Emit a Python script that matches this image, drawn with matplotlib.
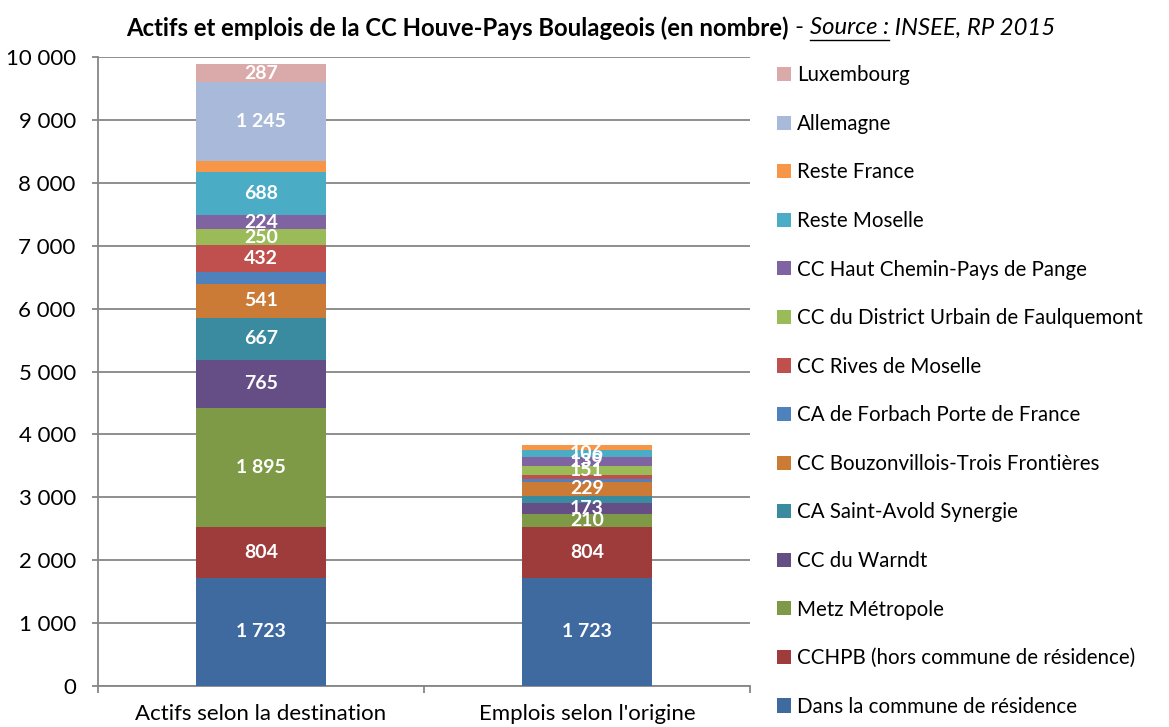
import matplotlib.pyplot as plt
from matplotlib.patches import Patch
from matplotlib.lines import Line2D

plt.rcParams['font.family'] = ['Lato', 'DejaVu Sans']

# categories and series (bottom to top)
categories = ["Actifs selon la destination", "Emplois selon l'origine"]
series = [
    "Dans la commune de résidence",
    "CCHPB (hors commune de résidence)",
    "Metz Métropole",
    "CC du Warndt",
    "CA Saint-Avold Synergie",
    "CC Bouzonvillois-Trois Frontières",
    "CA de Forbach Porte de France",
    "CC Rives de Moselle",
    "CC du District Urbain de Faulquemont",
    "CC Haut Chemin-Pays de Pange",
    "Reste Moselle",
    "Reste France",
    "Allemagne",
    "Luxembourg",
]
actifs = [1723, 804, 1895, 765, 667, 541, 185, 432, 250, 224, 688, 178, 1245, 287]
emplois = [1723, 804, 210, 173, 111, 229, 48, 52, 151, 139, 106, 80, 0, 0]
# which segments carry a value label
label_actifs = [1, 1, 1, 1, 1, 1, 0, 1, 1, 1, 1, 0, 1, 1]
label_emplois = [1, 1, 1, 1, 0, 1, 0, 0, 1, 1, 1, 0, 0, 0]

colors = ["#3F6A9F", "#9E3C3B", "#7E9A46", "#654D86", "#3A8BA0", "#CC7B36",
          "#4F81BD", "#C0504D", "#9BBB59", "#8064A2", "#4BACC6", "#F79646",
          "#A9B9D9", "#DAA9A9"]

fig = plt.figure(figsize=(11.69, 7.27), dpi=100)
ax = fig.add_axes([98 / 1169, 41 / 727, 652 / 1169, 629 / 727])

values = [actifs, emplois]
labels = [label_actifs, label_emplois]
x = [0, 1]
for ci in range(2):
    bottom = 0
    for si in range(len(series)):
        v = values[ci][si]
        if v > 0:
            ax.bar(x[ci], v, bottom=bottom, width=0.4, color=colors[si],
                   edgecolor='none', zorder=3)
            if labels[ci][si]:
                ax.text(x[ci], bottom + v / 2, f"{v:,}".replace(",", " "),
                        ha='center', va='center', color='white',
                        fontsize=14, fontweight='bold', zorder=4)
        bottom += v

ax.set_xlim(-0.5, 1.5)
ax.set_ylim(0, 10000)
ax.set_yticks(range(0, 10001, 1000))
ax.set_yticklabels([f"{t:,}".replace(",", " ") for t in range(0, 10001, 1000)],
                   fontsize=16)
ax.yaxis.grid(True, color='#868686', linewidth=1.3, zorder=0)
ax.set_axisbelow(True)

ax.set_xticks(x)
ax.set_xticklabels(categories, fontsize=16)
ax.tick_params(axis='x', which='major', length=0, pad=13)
ax.set_xticks([-0.5, 0.5, 1.5], minor=True)
ax.tick_params(axis='x', which='minor', length=5, color='#868686', width=1.3)
ax.tick_params(axis='y', length=4, color='#868686', width=1.3, pad=12)

for s in ['top', 'right']:
    ax.spines[s].set_visible(False)
for s in ['left', 'bottom']:
    ax.spines[s].set_color('#868686')
    ax.spines[s].set_linewidth(1.3)

# legend, top entry first
handles = [Patch(facecolor=colors[i], edgecolor='none', label=series[i])
           for i in range(len(series) - 1, -1, -1)]
fig.legend(handles=handles, loc='upper left',
           bbox_to_anchor=(769 / 1169, 1 - 57 / 727),
           frameon=False, fontsize=14.8, handlelength=0.68, handleheight=0.68,
           handletextpad=0.3, labelspacing=1.39, borderaxespad=0)

# title built from pieces
pieces = [
    ("Actifs et emplois de la CC Houve-Pays Boulageois (en nombre)", 'bold', 'normal', False),
    (" - ", 'normal', 'normal', False),
    ("Source :", 'normal', 'italic', True),
    (" INSEE, RP 2015", 'normal', 'italic', False),
]
fig.canvas.draw()
renderer = fig.canvas.get_renderer()
texts = []
for s, w, st, u in pieces:
    t = fig.text(0, 1 - 28 / 727, s, fontsize=17.2, fontweight=w, fontstyle=st,
                 ha='left', va='center')
    texts.append(t)
widths = [t.get_window_extent(renderer).width for t in texts]
total = sum(widths)
cur = 591 - total / 2
for (s, w, st, u), t, wd in zip(pieces, texts, widths):
    t.set_x(cur / 1169)
    if u:
        y0 = 1 - 40 / 727
        fig.add_artist(Line2D([cur / 1169, (cur + wd) / 1169], [y0, y0],
                              color='black', linewidth=1))
    cur += wd

fig.savefig('out.png', dpi=100)
